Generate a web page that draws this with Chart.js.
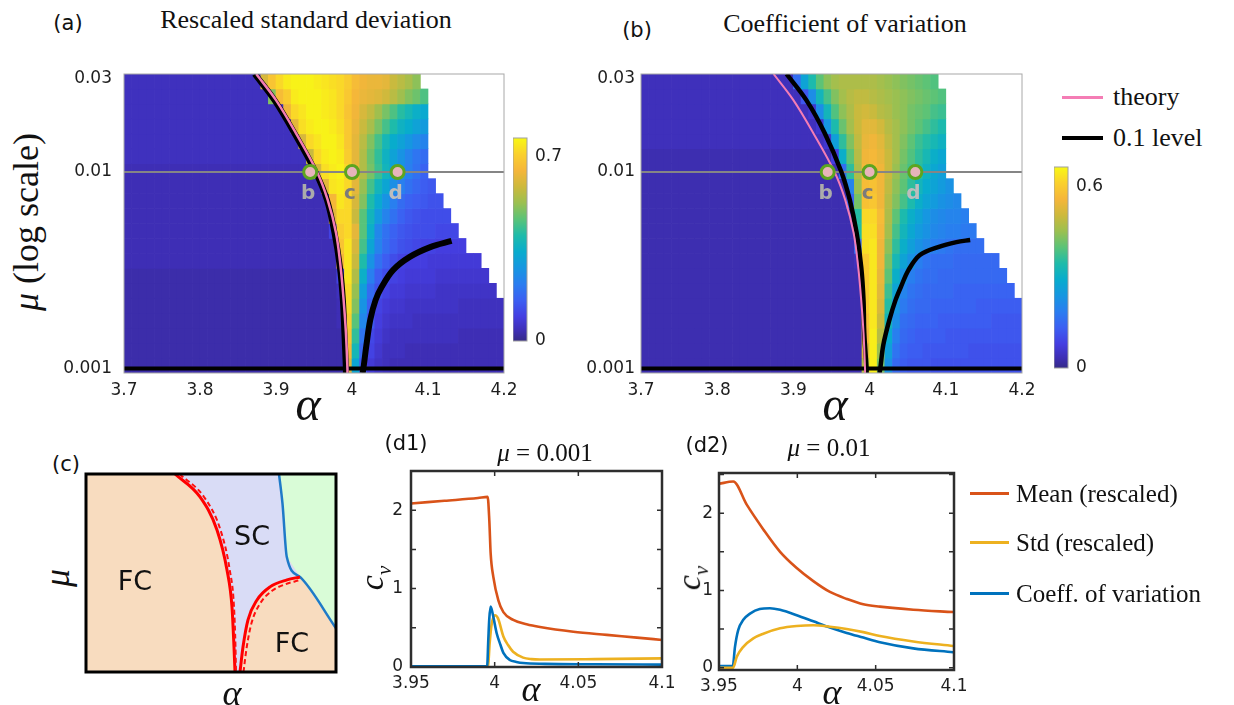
<!DOCTYPE html>
<html>
<head>
<meta charset="utf-8">
<script src="https://cdn.jsdelivr.net/npm/chart.js@4.4.1/dist/chart.umd.min.js"></script>
<style>
  body { margin: 0; width: 1234px; height: 705px; position: relative; background: #fff; overflow: hidden; font-family: "DejaVu Sans", sans-serif; color: #111; }
  canvas { position: absolute; }
  .t { position: absolute; white-space: nowrap; line-height: 1; transform: translate(-50%, -50%); }
  .l { position: absolute; white-space: nowrap; line-height: 1; transform: translate(0, -50%); }
  .serif { font-family: "Liberation Serif", "DejaVu Serif", serif; }
  .rot { transform: translate(-50%, -50%) rotate(-90deg); }
  .sw { position: absolute; }
</style>
</head>
<body>

<canvas id="heatA" width="472" height="340" style="left:54px;top:64px"></canvas>
<canvas id="barA" width="60" height="225" style="left:513px;top:128px"></canvas>
<canvas id="heatB" width="473" height="340" style="left:571px;top:64px"></canvas>
<canvas id="barB" width="60" height="222" style="left:1054px;top:157px"></canvas>
<canvas id="phase" width="258" height="206" style="left:82px;top:470px"></canvas>
<canvas id="d1" width="331" height="244" style="left:351px;top:461px"></canvas>
<canvas id="d2" width="315" height="242" style="left:659px;top:463px"></canvas>

<!-- titles and labels -->
<div class="t" style="left:68px;top:23px;font-size:21px">(a)</div>
<div class="t serif" style="left:306px;top:20px;font-size:26px">Rescaled standard deviation</div>
<div class="t" style="left:637px;top:30px;font-size:21px">(b)</div>
<div class="t serif" style="left:845px;top:24px;font-size:26px">Coefficient of variation</div>
<div class="t serif rot" style="left:26px;top:222px;font-size:36px"><i>μ</i> (log scale)</div>
<div class="t serif" style="left:308px;top:404px;font-size:48px"><i>α</i></div>
<div class="t serif" style="left:835px;top:404px;font-size:48px"><i>α</i></div>

<div class="sw" style="left:1062px;top:96px;width:41px;height:3px;background:#f47db5"></div>
<div class="l serif" style="left:1113px;top:97px;font-size:26px">theory</div>
<div class="sw" style="left:1062px;top:136px;width:41px;height:4px;background:#000"></div>
<div class="l serif" style="left:1113px;top:138px;font-size:26px">0.1 level</div>

<div class="t" style="left:66px;top:464px;font-size:21px">(c)</div>
<div class="t serif rot" style="left:57px;top:578px;font-size:36px"><i>μ</i></div>
<div class="t serif" style="left:232px;top:693px;font-size:36px"><i>α</i></div>
<div class="t" style="left:135px;top:580px;font-size:27px">FC</div>
<div class="t" style="left:252px;top:535px;font-size:27px">SC</div>
<div class="t" style="left:292px;top:642px;font-size:27px">FC</div>

<div class="t" style="left:406px;top:443px;font-size:21px">(d1)</div>
<div class="t serif" style="left:545px;top:452px;font-size:25px"><i>μ</i> = 0.001</div>
<div class="t serif rot" style="left:375px;top:578px;font-size:34px"><i>c</i><sub style="font-size:21px"><i>v</i></sub></div>
<div class="t serif" style="left:531px;top:689px;font-size:36px"><i>α</i></div>

<div class="t" style="left:707px;top:445px;font-size:21px">(d2)</div>
<div class="t serif" style="left:829px;top:447px;font-size:25px"><i>μ</i> = 0.01</div>
<div class="t serif rot" style="left:692px;top:578px;font-size:34px"><i>c</i><sub style="font-size:21px"><i>v</i></sub></div>
<div class="t serif" style="left:832px;top:692px;font-size:36px"><i>α</i></div>

<div class="sw" style="left:970px;top:492px;width:39px;height:3px;background:#d95319"></div>
<div class="l serif" style="left:1016px;top:493px;font-size:25px">Mean (rescaled)</div>
<div class="sw" style="left:970px;top:541px;width:39px;height:3px;background:#edb120"></div>
<div class="l serif" style="left:1016px;top:542px;font-size:25px">Std (rescaled)</div>
<div class="sw" style="left:970px;top:592px;width:39px;height:3px;background:#0072bd"></div>
<div class="l serif" style="left:1016px;top:593px;font-size:25px">Coeff. of variation</div>

<script>
// ---- heatmap grid: alpha columns (start, step), mu range (log rows) ----
const alphaGrid = [3.70, 0.01];
const muRange = [0.00095, 0.0315];
const alphaTicks = [3.7, 3.8, 3.9, 4, 4.1, 4.2];
const muTicks = [0.001, 0.01, 0.03];

// rescaled std, x100, rows from top (mu=0.03) to bottom (mu=0.001); missing cells = no data
const stdRows = [
  [5,5,5,5,5,5,5,5,5,5,5,5,5,5,5,5,5,5,60,68,72,75,76,76,76,75,74,73,72,70,66,64,63,63,62,58,56,54,51],
  [5,5,5,5,5,5,5,5,5,5,5,5,5,5,5,5,5,5,5,50,66,70,75,76,76,76,75,74,72,69,65,63,62,61,59,56,53,50,48,45],
  [5,5,5,5,5,5,5,5,5,5,5,5,5,5,5,5,5,5,5,5,5,64,72,74,76,76,75,74,72,68,64,60,57,53,49,45,41,38,35,33],
  [5,5,5,5,5,5,5,5,5,5,5,5,5,5,5,5,5,5,5,5,5,5,62,73,75,76,76,75,73,69,63,58,54,49,44,40,36,34,31,29],
  [5,5,5,5,5,5,5,5,5,5,5,5,5,5,5,5,5,5,5,5,5,5,5,60,72,74,76,76,74,69,62,56,50,44,38,34,31,28,25,23],
  [5,5,5,5,5,5,5,5,5,5,5,5,5,5,5,5,5,5,5,5,5,5,5,5,58,72,75,76,75,70,62,55,48,42,36,31,27,23,20,18],
  [4,4,4,4,4,4,4,4,4,4,4,4,4,4,4,4,4,4,4,4,4,4,4,4,4,60,73,75,76,72,63,55,49,43,37,31,27,22,19,16],
  [4,4,4,4,4,4,4,4,4,4,4,4,4,4,4,4,4,4,4,4,4,4,4,4,4,4,62,74,75,72,62,52,44,37,32,26,22,19,17,15,14],
  [4,4,4,4,4,4,4,4,4,4,4,4,4,4,4,4,4,4,4,4,4,4,4,4,4,4,4,65,74,72,60,50,40,33,27,22,18,16,15,14,13,13],
  [4,4,4,4,4,4,4,4,4,4,4,4,4,4,4,4,4,4,4,4,4,4,4,4,4,4,4,62,72,72,58,46,37,29,23,19,16,14,13,12,12,12,12],
  [4,4,4,4,4,4,4,4,4,4,4,4,4,4,4,4,4,4,4,4,4,4,4,4,4,4,4,10,70,72,62,46,35,24,19,16,14,13,12,12,12,11,11,11],
  [4,4,4,4,4,4,4,4,4,4,4,4,4,4,4,4,4,4,4,4,4,4,4,4,4,4,4,4,68,74,60,44,32,23,18,15,13,12,11,10,10,9,9,9,9],
  [4,4,4,4,4,4,4,4,4,4,4,4,4,4,4,4,4,4,4,4,4,4,4,4,4,4,4,4,65,74,58,40,27,19,15,12,10,9,9,9,8,8,8,8,8,8,8],
  [3,3,3,3,3,3,3,3,3,3,3,3,3,3,3,3,3,3,3,3,3,3,3,3,3,3,3,3,10,74,55,35,22,15,12,10,9,8,8,8,8,7,7,7,7,7,7,7],
  [3,3,3,3,3,3,3,3,3,3,3,3,3,3,3,3,3,3,3,3,3,3,3,3,3,3,3,3,5,72,52,30,18,13,10,8,8,7,7,7,7,6,6,6,6,6,6,6,6],
  [3,3,3,3,3,3,3,3,3,3,3,3,3,3,3,3,3,3,3,3,3,3,3,3,3,3,3,3,4,72,50,27,16,10,8,7,7,6,6,6,6,6,6,6,5,5,5,5,5,5],
  [3,3,3,3,3,3,3,3,3,3,3,3,3,3,3,3,3,3,3,3,3,3,3,3,3,3,3,3,4,70,46,24,14,9,7,6,6,6,5,5,5,5,5,5,5,5,5,5,5,5],
  [3,3,3,3,3,3,3,3,3,3,3,3,3,3,3,3,3,3,3,3,3,3,3,3,3,3,3,3,3,68,42,20,11,8,6,5,5,5,5,5,5,5,5,5,4,4,4,4,4,4],
  [3,3,3,3,3,3,3,3,3,3,3,3,3,3,3,3,3,3,3,3,3,3,3,3,3,3,3,3,3,65,38,17,10,7,5,5,5,4,4,4,4,4,4,4,4,4,4,4,4,4],
  [3,3,3,3,3,3,3,3,3,3,3,3,3,3,3,3,3,3,3,3,3,3,3,3,3,3,3,3,3,60,32,14,8,6,5,4,4,4,4,4,4,4,4,4,4,4,4,4,4,4]
];

// coefficient of variation, x100, same grid
const cvRows = [
  [4,4,4,4,4,4,4,4,4,4,4,4,4,4,4,4,4,4,4,4,16,27,34,40,44,46,47,47,47,47,47,46,45,44,43,42,41,40,39],
  [4,4,4,4,4,4,4,4,4,4,4,4,4,4,4,4,4,4,4,4,4,12,22,32,38,43,46,48,49,49,48,47,46,45,44,43,42,41,40,39],
  [4,4,4,4,4,4,4,4,4,4,4,4,4,4,4,4,4,4,4,4,4,4,6,22,32,39,44,47,50,51,50,48,47,45,44,42,41,40,38,37],
  [4,4,4,4,4,4,4,4,4,4,4,4,4,4,4,4,4,4,4,4,4,4,4,6,24,34,41,46,50,53,53,51,48,46,44,42,40,38,36,34],
  [4,4,4,4,4,4,4,4,4,4,4,4,4,4,4,4,4,4,4,4,4,4,4,4,6,26,36,43,49,54,55,53,49,46,43,40,37,35,33,31],
  [3,3,3,3,3,3,3,3,3,3,3,3,3,3,3,3,3,3,3,3,3,3,3,3,3,8,30,40,48,55,56,54,50,46,42,39,36,33,30,28],
  [3,3,3,3,3,3,3,3,3,3,3,3,3,3,3,3,3,3,3,3,3,3,3,3,3,3,16,36,47,56,57,55,50,45,41,38,35,31,28,26],
  [3,3,3,3,3,3,3,3,3,3,3,3,3,3,3,3,3,3,3,3,3,3,3,3,3,3,3,20,45,57,58,55,49,44,40,36,32,29,27,25,23],
  [3,3,3,3,3,3,3,3,3,3,3,3,3,3,3,3,3,3,3,3,3,3,3,3,3,3,3,14,42,58,59,55,48,43,38,34,30,27,25,23,22,21],
  [3,3,3,3,3,3,3,3,3,3,3,3,3,3,3,3,3,3,3,3,3,3,3,3,3,3,3,3,35,62,62,57,47,40,34,30,27,24,22,21,20,20,19],
  [3,3,3,3,3,3,3,3,3,3,3,3,3,3,3,3,3,3,3,3,3,3,3,3,3,3,3,3,35,63,63,56,46,38,32,28,25,23,21,20,19,19,18,18],
  [3,3,3,3,3,3,3,3,3,3,3,3,3,3,3,3,3,3,3,3,3,3,3,3,3,3,3,3,15,63,64,55,44,36,30,26,23,21,19,18,17,16,16,16,16],
  [3,3,3,3,3,3,3,3,3,3,3,3,3,3,3,3,3,3,3,3,3,3,3,3,3,3,3,3,4,60,64,55,42,33,27,23,19,17,16,16,16,15,15,15,15,15,15],
  [3,3,3,3,3,3,3,3,3,3,3,3,3,3,3,3,3,3,3,3,3,3,3,3,3,3,3,3,3,60,64,54,40,30,23,19,17,16,16,15,15,15,15,15,15,15,15,15],
  [3,3,3,3,3,3,3,3,3,3,3,3,3,3,3,3,3,3,3,3,3,3,3,3,3,3,3,3,3,60,64,53,37,27,20,17,16,15,15,15,15,14,14,14,14,14,14,14,14],
  [3,3,3,3,3,3,3,3,3,3,3,3,3,3,3,3,3,3,3,3,3,3,3,3,3,3,3,3,3,60,64,52,35,24,18,16,15,15,14,14,14,14,14,14,13,13,13,13,13,13],
  [3,3,3,3,3,3,3,3,3,3,3,3,3,3,3,3,3,3,3,3,3,3,3,3,3,3,3,3,3,58,64,50,32,22,16,15,14,14,14,13,13,13,13,13,13,13,12,12,12,12],
  [3,3,3,3,3,3,3,3,3,3,3,3,3,3,3,3,3,3,3,3,3,3,3,3,3,3,3,3,3,56,65,48,29,19,15,14,13,13,13,13,12,12,12,12,12,12,12,12,12,12],
  [3,3,3,3,3,3,3,3,3,3,3,3,3,3,3,3,3,3,3,3,3,3,3,3,3,3,3,3,3,52,65,45,26,17,14,13,13,12,12,12,12,12,12,11,11,11,11,11,11,11],
  [3,3,3,3,3,3,3,3,3,3,3,3,3,3,3,3,3,3,3,3,3,3,3,3,3,3,3,3,3,48,65,42,23,15,13,12,12,12,11,11,11,11,11,11,11,11,11,11,11,11]
];
const stdMax = 0.77, cvMax = 0.663;
const stdBarTicks = [0, 0.7], cvBarTicks = [0, 0.6];

// curves on the heatmaps
const contourMu = [0.0315, 0.0232, 0.0158, 0.0100, 0.00721, 0.0049, 0.00329, 0.00223, 0.00152, 0.001, 0.00095];
const theoryAlpha = [3.874, 3.900, 3.926, 3.954, 3.968, 3.979, 3.985, 3.989, 3.992, 3.994, 3.994];
const stdLevelAlpha = [3.872, 3.898, 3.924, 3.952, 3.967, 3.977, 3.984, 3.988, 3.990, 3.992, 3.992];
const cvLevelAlpha = [3.891, 3.917, 3.941, 3.963, 3.974, 3.983, 3.989, 3.992, 3.993, 3.996, 3.996];
const stdLevel2Alpha = [4.014, 4.015, 4.019, 4.024, 4.031, 4.039, 4.054, 4.076, 4.103, 4.131];
const stdLevel2Mu = [0.00095, 0.001, 0.00132, 0.00177, 0.00223, 0.0026, 0.00317, 0.0037, 0.00415, 0.00446];
const cvLevel2Alpha = [4.013, 4.014, 4.018, 4.026, 4.034, 4.041, 4.051, 4.066, 4.090, 4.114, 4.132];
const cvLevel2Mu = [0.00095, 0.001, 0.00132, 0.00177, 0.00223, 0.0026, 0.00317, 0.00378, 0.00415, 0.0044, 0.00451];
const markAlpha = [3.945, 4.0, 4.06];
const markMu = 0.01;
const markLabels = ['b', 'c', 'd'];
const markColors = ['#ababab', '#7b7b7b', '#bdbdbd'];

// (c) phase sketch, unit box
const boxX = [0, 1, 1, 0], boxY = [0, 0, 1, 1];
const scX = [0.356, 0.456, 0.524, 0.564, 0.584, 0.592, 0.596, 0.616, 0.628, 0.648, 0.684, 0.736, 0.804, 0.856, 0.803, 0.786, 0.772];
const scY = [1, 0.884, 0.717, 0.515, 0.328, 0.126, 0, 0, 0.126, 0.263, 0.364, 0.43, 0.465, 0.48, 0.582, 0.85, 1];
const greenX = [0.772, 1, 1, 0.856, 0.803, 0.786];
const greenY = [1, 1, 0.221, 0.48, 0.582, 0.85];
const redLeftX = [0.356, 0.456, 0.524, 0.564, 0.584, 0.592, 0.596];
const redLeftY = [1, 0.884, 0.717, 0.515, 0.328, 0.126, 0];
const redLeftDashX = [0.374, 0.472, 0.538, 0.575, 0.592, 0.598, 0.600];
const redLeftDashY = [1, 0.884, 0.717, 0.515, 0.328, 0.126, 0];
const redRightX = [0.616, 0.628, 0.648, 0.684, 0.736, 0.804, 0.856];
const redRightY = [0, 0.126, 0.263, 0.364, 0.43, 0.465, 0.48];
const redRightDashX = [0.630, 0.642, 0.662, 0.696, 0.744, 0.806, 0.850];
const redRightDashY = [0, 0.118, 0.247, 0.345, 0.41, 0.447, 0.462];
const blueX = [0.772, 0.786, 0.803, 0.856, 1.0];
const blueY = [1, 0.85, 0.582, 0.48, 0.221];

// (d1) mu = 0.001
const d1MeanAlpha = [3.95, 3.97, 3.99, 3.9958, 3.9968, 3.9976, 3.9992, 4.0022, 4.0052, 4.0111, 4.0191, 4.0271, 4.047, 4.067, 4.085, 4.1];
const d1Mean = [2.085, 2.12, 2.155, 2.17, 1.87, 1.45, 1.15, 0.85, 0.70, 0.60, 0.545, 0.51, 0.45, 0.41, 0.375, 0.345];
const d1StdAlpha = [3.95, 3.996, 3.997, 3.998, 3.999, 4.0002, 4.002, 4.0052, 4.008, 4.011, 4.017, 4.022, 4.027, 4.06, 4.1];
const d1Std = [0.01, 0.01, 0.3, 0.52, 0.62, 0.66, 0.62, 0.39, 0.28, 0.195, 0.12, 0.10, 0.095, 0.10, 0.11];
const d1CvAlpha = [3.95, 3.9955, 3.9962, 3.9968, 3.9976, 3.999, 4.0012, 4.0035, 4.0052, 4.009, 4.013, 4.017, 4.03, 4.06, 4.1];
const d1Cv = [0.01, 0.01, 0.35, 0.62, 0.77, 0.66, 0.43, 0.28, 0.18, 0.09, 0.065, 0.05, 0.04, 0.035, 0.03];

// (d2) mu = 0.01
const d2MeanAlpha = [3.95, 3.9591, 3.9677, 3.9783, 3.989, 3.9996, 4.0102, 4.0208, 4.0315, 4.0421, 4.0527, 4.074, 4.0995];
const d2Mean = [2.38, 2.41, 2.11, 1.79, 1.50, 1.29, 1.12, 0.98, 0.89, 0.82, 0.79, 0.75, 0.72];
const d2StdAlpha = [3.95, 3.959, 3.9613, 3.9655, 3.9719, 3.9783, 3.989, 3.9996, 4.0102, 4.0208, 4.0315, 4.0421, 4.0527, 4.074, 4.0995];
const d2Std = [0.0, 0.0, 0.14, 0.27, 0.38, 0.44, 0.51, 0.54, 0.55, 0.53, 0.50, 0.46, 0.41, 0.34, 0.28];
const d2CvAlpha = [3.95, 3.9588, 3.9602, 3.9623, 3.9655, 3.9698, 3.976, 3.9825, 3.989, 3.9996, 4.0102, 4.0208, 4.0315, 4.0421, 4.0527, 4.074, 4.0995];
const d2Cv = [0.02, 0.02, 0.27, 0.49, 0.62, 0.70, 0.76, 0.77, 0.75, 0.68, 0.60, 0.52, 0.45, 0.39, 0.33, 0.25, 0.20];
const dAlphaTicks = [3.95, 4, 4.05, 4.1];
const dValTicks = [0, 0.5, 1, 1.5, 2, 2.5];

// ---- colours ----
const parulaStops = [
  [0.00, [53, 42, 135]], [0.05, [62, 46, 180]], [0.12, [68, 62, 225]], [0.20, [60, 95, 242]],
  [0.28, [42, 125, 240]], [0.36, [22, 150, 225]], [0.44, [8, 172, 205]], [0.52, [30, 187, 170]],
  [0.60, [90, 195, 120]], [0.68, [155, 192, 80]], [0.76, [205, 185, 60]], [0.84, [245, 182, 58]],
  [0.92, [250, 208, 45]], [1.00, [248, 248, 20]]
];
function parula(t) {
  t = Math.min(1, Math.max(0, t));
  for (let i = 1; i < parulaStops.length; i++) {
    const [t1, c1] = parulaStops[i];
    if (t <= t1) {
      const [t0, c0] = parulaStops[i - 1];
      const f = (t - t0) / (t1 - t0);
      return 'rgb(' + c0.map((c, k) => Math.round(c + (c1[k] - c) * f)).join(',') + ')';
    }
  }
  return 'rgb(248,248,20)';
}

Chart.defaults.animation = false;
Chart.defaults.events = [];
Chart.defaults.font.family = '"DejaVu Sans", sans-serif';
Chart.defaults.font.size = 17;
Chart.defaults.color = '#1e1e1e';
Chart.defaults.plugins.legend.display = false;
Chart.defaults.plugins.tooltip.enabled = false;

// fixed axis size, no extra label padding so the plot box lands where we put it
const fixSize = size => s => {
  if (s.isHorizontal()) s.height = size; else s.width = size;
  s.paddingTop = 0; s.paddingBottom = 0; s.paddingLeft = 0; s.paddingRight = 0;
};

const framePlugin = {
  id: 'frame',
  afterDraw(chart, args, opts) {
    const { ctx, chartArea: a } = chart;
    ctx.save();
    ctx.strokeStyle = opts.color || '#999';
    ctx.lineWidth = opts.width || 1;
    ctx.strokeRect(a.left, a.top, a.width, a.height);
    ctx.restore();
  }
};

// small inward tick marks, matlab style
const innerTicks = {
  id: 'innerTicks',
  afterDraw(chart, args, opts) {
    if (!opts.len) return;
    const { ctx, chartArea: a, scales } = chart;
    ctx.save();
    ctx.strokeStyle = opts.color;
    ctx.lineWidth = 1.5;
    ctx.beginPath();
    scales.x.ticks.forEach(t => {
      const x = scales.x.getPixelForValue(t.value);
      ctx.moveTo(x, a.top); ctx.lineTo(x, a.top + opts.len);
      ctx.moveTo(x, a.bottom); ctx.lineTo(x, a.bottom - opts.len);
    });
    scales.y.ticks.forEach(t => {
      const y = scales.y.getPixelForValue(t.value);
      ctx.moveTo(a.left, y); ctx.lineTo(a.left + opts.len, y);
      ctx.moveTo(a.right, y); ctx.lineTo(a.right - opts.len, y);
    });
    ctx.stroke();
    ctx.restore();
  }
};

const markLabelPlugin = {
  id: 'markLabels',
  afterDatasetsDraw(chart) {
    const idx = chart.data.datasets.findIndex(d => d.label === 'marks');
    if (idx < 0) return;
    const ctx = chart.ctx;
    ctx.save();
    ctx.font = 'bold 20px "DejaVu Sans", sans-serif';
    ctx.textAlign = 'center';
    ctx.textBaseline = 'middle';
    chart.getDatasetMeta(idx).data.forEach((pt, k) => {
      ctx.fillStyle = markColors[k];
      ctx.fillText(markLabels[k], pt.x - 2, pt.y + 22);
    });
    ctx.restore();
  }
};

const pts = (xs, ys) => xs.map((x, k) => ({ x: x, y: Array.isArray(ys) ? ys[k] : ys }));

function heatmap(id, rows, vmax, contour, contour2, blackW, pinkW, yPad) {
  const top = Math.log10(muRange[1]), bot = Math.log10(muRange[0]);
  const edge = i => Math.pow(10, top - i * (top - bot) / rows.length);
  const datasets = rows.map((row, i) => ({
    type: 'bar', label: 'row' + i, order: 10, grouped: false,
    data: row.map((v, j) => ({ x: alphaGrid[0] + (j + 0.5) * alphaGrid[1], y: [edge(i + 1), edge(i)], v: v / 100 })),
    backgroundColor: c => parula(c.raw ? c.raw.v / vmax : 0),
    borderWidth: 0, barPercentage: 1, categoryPercentage: 1
  }));
  const line = (data, color, width, order) => ({
    type: 'line', order: order, data: data, borderColor: color, borderWidth: width,
    pointRadius: 0, tension: 0.35, fill: false
  });
  datasets.push(line(pts([3.7, 4.2], 0.01), '#858585', 2, 6));
  datasets.push(line(pts([3.7, 4.2], 0.001), '#000', 4, 5));
  datasets.push(line(pts(contour, contourMu), '#000', blackW, 4));
  datasets.push(line(pts(contour2[0], contour2[1]), '#000', blackW, 4));
  datasets.push(line(pts(theoryAlpha, contourMu), '#f47db5', pinkW, 3));
  datasets.push({
    type: 'line', label: 'marks', order: 1, showLine: false, data: pts(markAlpha, markMu),
    pointRadius: 6.5, pointBackgroundColor: '#e8b4bb', pointBorderColor: '#5da51f', pointBorderWidth: 3
  });
  return new Chart(document.getElementById(id), {
    type: 'bar',
    data: { datasets: datasets },
    options: {
      responsive: false, devicePixelRatio: 1,
      layout: { autoPadding: false, padding: { top: 10, right: 22 } },
      scales: {
        x: {
          type: 'linear', min: 3.7, max: 4.2, offset: false,
          grid: { display: false, drawTicks: false }, border: { display: false },
          ticks: { padding: 7, autoSkip: false, maxRotation: 0, callback: v => String(v) },
          afterBuildTicks: s => { s.ticks = alphaTicks.map(v => ({ value: v })); },
          afterFit: fixSize(31)
        },
        y: {
          type: 'logarithmic', min: muRange[0], max: muRange[1],
          grid: { display: false, drawTicks: false }, border: { display: false },
          ticks: { padding: yPad, autoSkip: false, callback: v => String(v) },
          afterBuildTicks: s => { s.ticks = muTicks.map(v => ({ value: v })); },
          afterFit: fixSize(70)
        }
      },
      plugins: { frame: { color: '#a8a8a8', width: 1 } }
    },
    plugins: [framePlugin, markLabelPlugin]
  });
}

function colorbar(id, vmax, ticks, padBottom) {
  return new Chart(document.getElementById(id), {
    type: 'bar',
    data: {
      labels: [''],
      datasets: [{
        data: [[0, vmax]], borderWidth: 0, barPercentage: 1, categoryPercentage: 1,
        backgroundColor: c => {
          const a = c.chart.chartArea;
          if (!a) return '#888';
          const g = c.chart.ctx.createLinearGradient(0, a.bottom, 0, a.top);
          parulaStops.forEach(s => g.addColorStop(s[0], 'rgb(' + s[1].join(',') + ')'));
          return g;
        }
      }]
    },
    options: {
      responsive: false, devicePixelRatio: 1,
      layout: { autoPadding: false, padding: { top: 10, bottom: padBottom } },
      scales: {
        x: { display: false },
        y: {
          position: 'right', min: 0, max: vmax,
          grid: { display: false, drawTicks: false }, border: { display: false },
          ticks: { padding: 8, callback: v => String(v) },
          afterBuildTicks: s => { s.ticks = ticks.map(v => ({ value: v })); },
          afterFit: fixSize(46)
        }
      },
      plugins: { frame: { color: '#a0a0a0', width: 1 } }
    },
    plugins: [framePlugin]
  });
}

function curves(id, series, yMin, yMax, xH, yPad) {
  return new Chart(document.getElementById(id), {
    type: 'line',
    data: {
      datasets: series.map(s => ({
        data: pts(s[0], s[1]), borderColor: s[2], borderWidth: 2.6, pointRadius: 0,
        cubicInterpolationMode: 'monotone', fill: false
      }))
    },
    options: {
      responsive: false, devicePixelRatio: 1,
      layout: { autoPadding: false, padding: { top: 10, right: 20 } },
      scales: {
        x: {
          type: 'linear', min: 3.95, max: 4.1,
          grid: { display: false, drawTicks: false }, border: { display: false },
          ticks: { padding: 6, autoSkip: false, maxRotation: 0, callback: v => String(v) },
          afterBuildTicks: s => { s.ticks = dAlphaTicks.map(v => ({ value: v })); },
          afterFit: fixSize(xH)
        },
        y: {
          min: yMin, max: yMax,
          grid: { display: false, drawTicks: false }, border: { display: false },
          ticks: { padding: yPad, autoSkip: false, callback: v => Number.isInteger(v) ? String(v) : '' },
          afterBuildTicks: s => { s.ticks = dValTicks.map(v => ({ value: v })); },
          afterFit: fixSize(60)
        }
      },
      plugins: { frame: { color: '#2e2e2e', width: 2.5 }, innerTicks: { len: 5, color: '#2e2e2e' } }
    },
    plugins: [framePlugin, innerTicks]
  });
}

heatmap('heatA', stdRows, stdMax, stdLevelAlpha, [stdLevel2Alpha, stdLevel2Mu], 6, 2.5, 12);
heatmap('heatB', cvRows, cvMax, cvLevelAlpha, [cvLevel2Alpha, cvLevel2Mu], 4.5, 2, 6);
colorbar('barA', stdMax, stdBarTicks, 12);
colorbar('barB', cvMax, cvBarTicks, 11);

// (c) phase sketch
const region = (xs, ys, color, order) => ({
  data: pts(xs, ys), showLine: true, fill: 'shape', backgroundColor: color,
  borderWidth: 0, pointRadius: 0, tension: 0, order: order
});
const curve = (xs, ys, color, width, dash) => ({
  data: pts(xs, ys), showLine: true, fill: false, borderColor: color, borderWidth: width,
  borderDash: dash || [], pointRadius: 0, cubicInterpolationMode: 'monotone', order: 1
});
new Chart(document.getElementById('phase'), {
  type: 'scatter',
  data: {
    datasets: [
      region(boxX, boxY, '#f8dcbf', 9),
      region(scX, scY, '#d9dcf6', 8),
      region(greenX, greenY, '#d9fcd7', 8),
      curve(redLeftDashX, redLeftDashY, '#ff1010', 2, [5, 3]),
      curve(redRightDashX, redRightDashY, '#ff1010', 2, [5, 3]),
      curve(redLeftX, redLeftY, '#ff0000', 3),
      curve(redRightX, redRightY, '#ff0000', 3),
      curve(blueX, blueY, '#1f7ac8', 2.5)
    ]
  },
  options: {
    responsive: false, devicePixelRatio: 1,
    layout: { autoPadding: false, padding: 4 },
    scales: { x: { display: false, min: 0, max: 1 }, y: { display: false, min: 0, max: 1 } },
    plugins: { frame: { color: '#000', width: 3 } }
  },
  plugins: [framePlugin]
});

curves('d1', [
  [d1MeanAlpha, d1Mean, '#d95319'],
  [d1CvAlpha, d1Cv, '#0072bd'],
  [d1StdAlpha, d1Std, '#edb120']
], 0, 2.5, 38, 8);
curves('d2', [
  [d2MeanAlpha, d2Mean, '#d95319'],
  [d2StdAlpha, d2Std, '#edb120'],
  [d2CvAlpha, d2Cv, '#0072bd']
], -0.03, 2.52, 35, 6);
</script>
</body>
</html>
